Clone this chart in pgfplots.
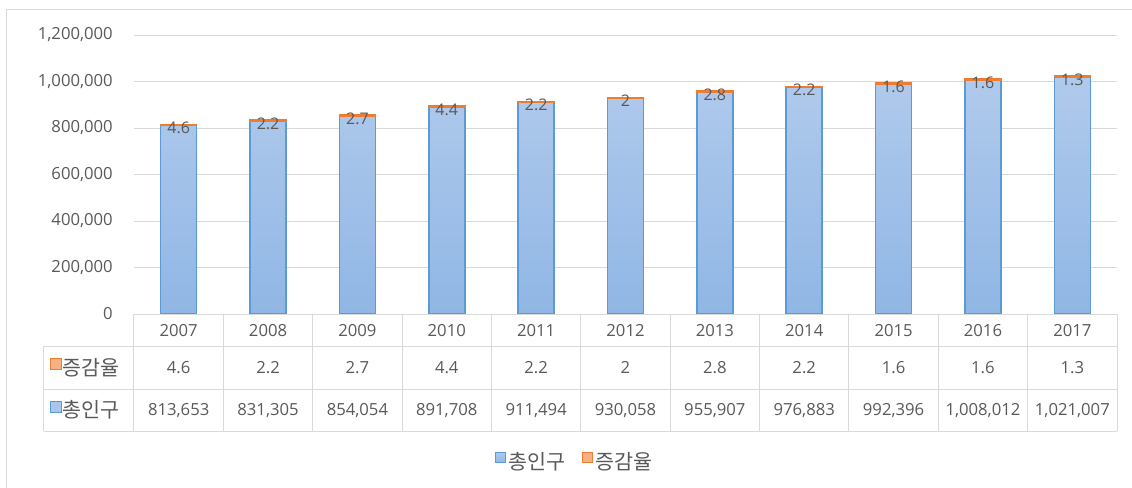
\documentclass[border=0pt]{standalone}
\usepackage{pgfplots}
\pgfplotsset{compat=1.18}
\usepackage{pgfplotstable}
\usepackage{fontspec}
\setmainfont{Open Sans}
\newfontfamily\kr{Noto Sans CJK KR}
\usetikzlibrary{calc}
\definecolor{blueD}{HTML}{5B9BD5}
\definecolor{blueT}{HTML}{B0CAEC}
\definecolor{blueB}{HTML}{90B6E5}
\definecolor{blueL}{HTML}{A9C6EB}
\definecolor{orD}{HTML}{ED7D31}
\definecolor{orL}{HTML}{F4B183}
\definecolor{gridc}{HTML}{D9D9D9}
\definecolor{txt}{HTML}{595959}
\newcommand\tfont{\fontsize{12.5pt}{15pt}\selectfont}
\newcommand\lfont{\fontsize{12pt}{14pt}\selectfont}
\newcommand\krfont{\kr\fontsize{15.5pt}{18pt}\selectfont}

\pgfplotstableread{
idx year pop rate
0 2007 813653 4.6
1 2008 831305 2.2
2 2009 854054 2.7
3 2010 891708 4.4
4 2011 911494 2.2
5 2012 930058 2
6 2013 955907 2.8
7 2014 976883 2.2
8 2015 992396 1.6
9 2016 1008012 1.6
10 2017 1021007 1.3
}\tbl

\newcommand\tcell[2]{\hbox to 60pt{\hss\vbox to #1{\vss\hbox{#2}\vss}\hss}}
\newcommand\tablecol{%
 \pgfplotstablegetelem{\ticknum}{year}\of\tbl\let\tY\pgfplotsretval
 \pgfplotstablegetelem{\ticknum}{rate}\of\tbl\let\tR\pgfplotsretval
 \pgfplotstablegetelem{\ticknum}{pop}\of\tbl\let\tP\pgfplotsretval
 \vbox{\offinterlineskip\tcell{24pt}{\tY}\tcell{32.25pt}{\tR}\tcell{31.5pt}{\pgfmathprintnumber[fixed,precision=0,1000 sep={,},assume math mode=true]{\tP}}}%
}
\newcommand\key[2]{\raisebox{4.5pt}{\setlength\fboxsep{0pt}\setlength\fboxrule{0.8pt}\fcolorbox{#1}{#2}{\rule{0pt}{7.4pt}\rule{7.4pt}{0pt}}}\hspace{0.5pt}}
% top segment of the stack (growth rate): orange cap with its value over it
\newcommand\ratecap[1]{\makebox[0pt]{\raisebox{-0.95pt}{\textcolor{orD}{\rule{28.1pt}{1.9pt}}}}\makebox[0pt]{\raisebox{-6.6pt}{#1}}}

\begin{document}
\begin{tikzpicture}
\begin{axis}[
  name=ax, scale only axis,
  width=737.25pt, height=209.25pt,
  ybar stacked, bar width=27pt,
  xmin=-0.5, xmax=10.5, ymin=0, ymax=1200000,
  xtick={0,1,2,3,4,5,6,7,8,9,10},
  xticklabel={\tablecol},
  xticklabel style={anchor=north, inner sep=0pt, font=\tfont, text=txt},
  ytick={0,200000,400000,600000,800000,1000000,1200000},
  scaled y ticks=false,
  /pgf/number format/fixed,
  /pgf/number format/1000 sep={,},
  /pgf/number format/assume math mode=true,
  yticklabel style={anchor=east, inner sep=0pt, xshift=-15.75pt, font=\tfont, text=txt},
  ymajorgrids, grid style={gridc, line width=0.75pt},
  axis line style={draw=none},
  major tick length=0pt,
  clip=false,
  legend style={at={(0.4486,0)}, anchor=center, yshift=-111pt, draw=none, fill=none,
    font=\krfont, text=txt, legend columns=2,
    /tikz/every even column/.append style={column sep=10pt}},
]
\coordinate (O) at (rel axis cs:0,0);
% outer frame
\draw[gridc, line width=0.75pt] ([xshift=-95.25pt,yshift=-200pt]rel axis cs:0,0) -- ([xshift=-95.25pt,yshift=228.75pt]rel axis cs:0,0) -- ([xshift=800pt,yshift=228.75pt]rel axis cs:0,0);
% data table grid
\draw[gridc, line width=0.75pt] (rel axis cs:0,0) -- (rel axis cs:1,0);
\draw[gridc, line width=0.75pt] ([xshift=-67.5pt,yshift=-24pt]rel axis cs:0,0) -- ([yshift=-24pt]rel axis cs:1,0);
\draw[gridc, line width=0.75pt] ([xshift=-67.5pt,yshift=-56.25pt]rel axis cs:0,0) -- ([yshift=-56.25pt]rel axis cs:1,0);
\draw[gridc, line width=0.75pt] ([xshift=-67.5pt,yshift=-87.75pt]rel axis cs:0,0) -- ([yshift=-87.75pt]rel axis cs:1,0);
\draw[gridc, line width=0.75pt] ([xshift=-67.5pt,yshift=-24pt]rel axis cs:0,0) -- ([xshift=-67.5pt,yshift=-87.75pt]rel axis cs:0,0);
\pgfplotsinvokeforeach{-0.5,0.5,1.5,2.5,3.5,4.5,5.5,6.5,7.5,8.5,9.5,10.5}{
  \draw[gridc, line width=0.75pt] (axis cs:#1,0) -- ([yshift=-87.75pt]axis cs:#1,0);
}
\node[anchor=west, inner sep=0pt, text=txt, font=\krfont] at ([xshift=-63pt,yshift=-40.1pt]rel axis cs:0,0) {\key{orD}{orL}증감율};
\node[anchor=west, inner sep=0pt, text=txt, font=\krfont] at ([xshift=-63pt,yshift=-72pt]rel axis cs:0,0) {\key{blueD}{blueL}총인구};

\addplot[fill=blueB, top color=blueT, bottom color=blueB, draw=blueD, line width=1.1pt,
  legend image code/.code={\draw[draw=blueD,fill=blueL,line width=0.8pt] (0pt,-0.5pt) rectangle (7.5pt,7pt);}]
  table[x=idx,y=pop]{\tbl};
\addplot[draw=none, fill=none, point meta=explicit,
  nodes near coords={\ratecap{\pgfmathprintnumber{\pgfplotspointmeta}}},
  nodes near coords style={anchor=base, inner sep=0pt, font=\lfont, text=txt},
  legend image code/.code={\draw[draw=orD,fill=orL,line width=0.8pt] (0pt,-0.5pt) rectangle (7.5pt,7pt);}]
  table[x=idx,y=rate,meta=rate]{\tbl};
\legend{총인구,증감율}
\end{axis}
\pgfresetboundingbox
\path[use as bounding box] ($(O)+(-100.5pt,-129.75pt)$) rectangle ($(O)+(748.5pt,235.5pt)$);
\end{tikzpicture}
\end{document}
